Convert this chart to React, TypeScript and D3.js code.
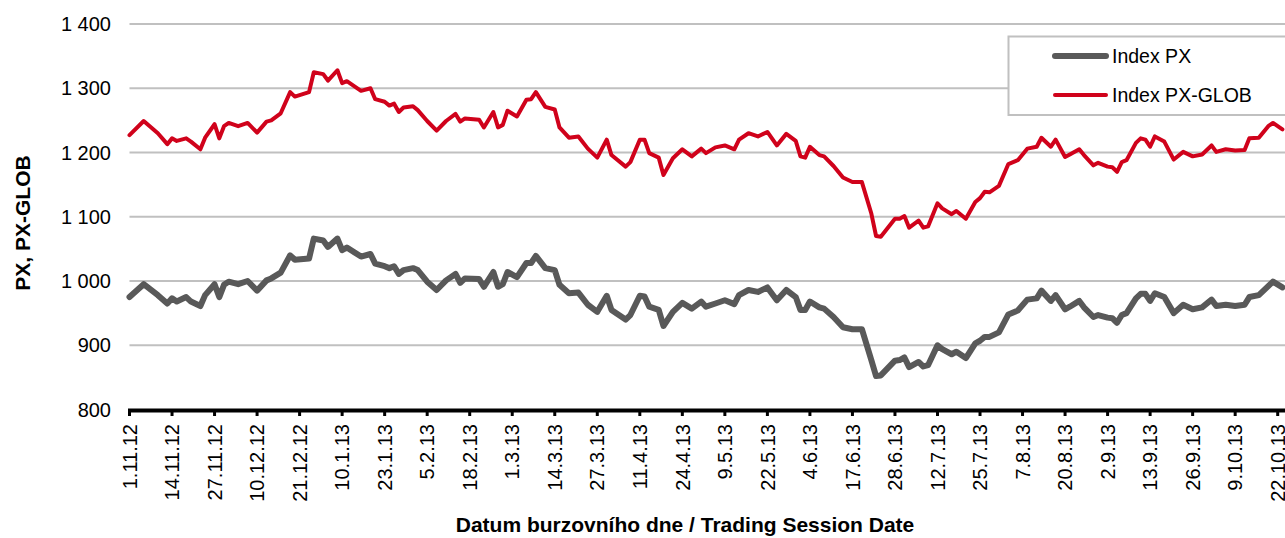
import React, { useEffect, useRef } from "react";
import * as d3 from "d3";

// trading-session index (0 = 1.11.12) of each read point
const sessionIdx = [
  0, 3, 6, 8, 9, 10, 12, 13, 15, 16, 18, 19, 20, 21, 23, 25, 27, 29, 30, 32,
  34, 35, 38, 39, 41, 42, 44, 45, 46, 49, 51, 52, 54, 55, 56, 57, 58, 60, 61, 63,
  65, 67, 69, 70, 71, 74, 75, 77, 78, 79, 80, 82, 84, 85, 86, 88, 90, 91, 93, 95,
  97, 99, 101, 102, 105, 106, 108, 109, 110, 112, 113, 115, 117, 119, 121, 122, 124, 126, 128, 129,
  131, 133, 135, 137, 139, 141, 142, 143, 144, 146, 147, 149, 151, 153, 155, 157, 158, 159, 162, 163,
  164, 165, 167, 168, 169, 171, 172, 174, 175, 177, 179, 180, 181, 182, 184, 186, 188, 190, 192, 193,
  195, 196, 198, 199, 201, 202, 204, 205, 207, 208, 209, 210, 211, 213, 214, 215, 216, 217, 219, 221,
  223, 225, 227, 229, 230, 232, 234, 236, 237, 239, 241, 242, 244,
];

const pxValues = [
  975, 995, 978, 965, 973, 968, 975, 968, 961, 978, 995, 975, 994, 999, 995, 1000, 985, 1001, 1004, 1013,
  1040, 1033, 1035, 1066, 1063, 1053, 1066, 1048, 1052, 1038, 1042, 1027, 1023, 1020, 1023, 1011, 1017, 1020, 1017, 999,
  986, 1001, 1011, 997, 1004, 1003, 991, 1014, 991, 995, 1014, 1006, 1028, 1028, 1039, 1020, 1017, 994, 981, 982,
  963, 952, 977, 955, 940, 947, 977, 976, 960, 955, 930, 952, 966, 957, 968, 960, 965, 970, 964, 978,
  986, 983, 990, 970, 986, 975, 955, 955, 968, 959, 957, 944, 928, 925, 925, 877, 852, 853, 876, 877,
  881, 866, 874, 867, 869, 900, 894, 886, 890, 880, 903, 907, 913, 913, 920, 948, 954, 971, 973, 985,
  969, 978, 956, 960, 969, 959, 944, 947, 943, 942, 935, 947, 950, 973, 980, 980, 969, 981, 975, 950,
  963, 956, 959, 971, 961, 963, 961, 963, 975, 978, 992, 999, 990,
];

const globValues = [
  1227, 1249, 1230, 1213, 1222, 1218, 1222, 1217, 1205, 1223, 1244, 1222, 1241, 1246, 1241, 1246, 1231, 1248, 1250, 1261,
  1294, 1287, 1294, 1325, 1322, 1312, 1328, 1308, 1311, 1296, 1300, 1283, 1279, 1273, 1276, 1263, 1270, 1272, 1266, 1249,
  1234, 1249, 1260, 1248, 1253, 1251, 1239, 1263, 1239, 1243, 1265, 1256, 1282, 1283, 1294, 1271, 1267, 1239, 1223, 1225,
  1206, 1192, 1220, 1196, 1178, 1185, 1220, 1220, 1199, 1192, 1165, 1191, 1205, 1194, 1206, 1199, 1208, 1211, 1205, 1220,
  1230, 1225, 1232, 1211, 1229, 1218, 1194, 1192, 1209, 1196, 1194, 1179, 1161, 1154, 1154, 1105, 1070, 1069, 1097, 1097,
  1101, 1083, 1094, 1083, 1085, 1121, 1113, 1104, 1109, 1097, 1123, 1129, 1139, 1138, 1148, 1182, 1188, 1206, 1209, 1223,
  1209, 1220, 1193, 1197, 1205, 1196, 1180, 1184, 1178, 1177, 1170, 1185, 1188, 1215, 1222, 1220, 1209, 1225, 1217, 1189,
  1201, 1194, 1197, 1211, 1201, 1205, 1203, 1204, 1222, 1223, 1241, 1246, 1236,
];

const tickLabels = [
  "1.11.12", "14.11.12", "27.11.12", "10.12.12", "21.12.12", "10.1.13", "23.1.13",
  "5.2.13", "18.2.13", "1.3.13", "14.3.13", "27.3.13", "11.4.13", "24.4.13",
  "9.5.13", "22.5.13", "4.6.13", "17.6.13", "28.6.13", "12.7.13", "25.7.13",
  "7.8.13", "20.8.13", "2.9.13", "13.9.13", "26.9.13", "9.10.13", "22.10.13",
];
const sessionsPerTick = 9;

const yTicks = [800, 900, 1000, 1100, 1200, 1300, 1400];

const seriesNames = ["Index PX", "Index PX-GLOB"];
const seriesColors = ["#595959", "#d0021b"];
const seriesWidths = [6, 4];

const FONT = "'Liberation Sans', Arial, Helvetica, sans-serif";

const App = () => {
  const svgRef = useRef<SVGSVGElement>(null);

  useEffect(() => {
    const width = 1285;
    const height = 538;
    const plotLeft = 129.5;
    const plotRight = 1285;

    const svg = d3.select(svgRef.current);
    svg.selectAll("*").remove();
    svg.attr("width", width).attr("height", height);

    const lastTick = (tickLabels.length - 1) * sessionsPerTick;
    const x = d3.scaleLinear().domain([0, lastTick]).range([129.5, 1277.7]);
    const y = d3.scaleLinear().domain([800, 1400]).range([409.5, 24]);

    const fmt = d3.formatLocale({ decimal: ",", thousands: " ", grouping: [3], currency: ["", ""] }).format(",");

    // gridlines
    svg
      .append("g")
      .selectAll("line")
      .data(yTicks.filter((d) => d > 800))
      .enter()
      .append("line")
      .attr("x1", plotLeft)
      .attr("x2", plotRight)
      .attr("y1", (d) => y(d))
      .attr("y2", (d) => y(d))
      .attr("stroke", "#c0c0c0")
      .attr("stroke-width", 2);

    // y labels
    svg
      .append("g")
      .selectAll("text")
      .data(yTicks)
      .enter()
      .append("text")
      .attr("x", 111)
      .attr("y", (d) => y(d))
      .attr("dy", "0.36em")
      .attr("text-anchor", "end")
      .style("font-family", FONT)
      .style("font-size", "20px")
      .attr("fill", "#000")
      .text((d) => fmt(d));

    // lines
    const series = [pxValues, globValues];
    series.forEach((vals, s) => {
      const line = d3
        .line<number>()
        .x((_, i) => x(sessionIdx[i]))
        .y((d) => y(d));
      svg
        .append("path")
        .attr("d", line(vals))
        .attr("fill", "none")
        .attr("stroke", seriesColors[s])
        .attr("stroke-width", seriesWidths[s])
        .attr("stroke-linejoin", "round")
        .attr("stroke-linecap", "round");
    });

    // x axis
    svg
      .append("line")
      .attr("x1", 128)
      .attr("x2", plotRight)
      .attr("y1", 410.5)
      .attr("y2", 410.5)
      .attr("stroke", "#000")
      .attr("stroke-width", 4);

    const ticks = svg.append("g");
    tickLabels.forEach((label, i) => {
      const tx = x(i * sessionsPerTick);
      ticks
        .append("line")
        .attr("x1", tx)
        .attr("x2", tx)
        .attr("y1", 410)
        .attr("y2", 416)
        .attr("stroke", "#000")
        .attr("stroke-width", 3);
      ticks
        .append("text")
        .attr("transform", `translate(${tx},424) rotate(-90)`)
        .attr("dy", "0.36em")
        .attr("text-anchor", "end")
        .style("font-family", FONT)
        .style("font-size", "20px")
        .attr("fill", "#000")
        .text(label);
    });

    // axis titles
    svg
      .append("text")
      .attr("transform", "translate(30,223) rotate(-90)")
      .attr("text-anchor", "middle")
      .style("font-family", FONT)
      .style("font-size", "21px")
      .style("font-weight", "bold")
      .text("PX, PX-GLOB");

    svg
      .append("text")
      .attr("x", 685)
      .attr("y", 532)
      .attr("text-anchor", "middle")
      .style("font-family", FONT)
      .style("font-size", "21px")
      .style("font-weight", "bold")
      .text("Datum burzovního dne / Trading Session Date");

    // legend
    const legend = svg.append("g");
    legend
      .append("rect")
      .attr("x", 1008.5)
      .attr("y", 36.5)
      .attr("width", 320)
      .attr("height", 78.5)
      .attr("fill", "#fff")
      .attr("stroke", "#c0c0c0")
      .attr("stroke-width", 2);

    seriesNames.forEach((name, i) => {
      const ly = 56 + i * 39;
      legend
        .append("line")
        .attr("x1", 1055)
        .attr("x2", 1106)
        .attr("y1", ly)
        .attr("y2", ly)
        .attr("stroke", seriesColors[i])
        .attr("stroke-width", seriesWidths[i])
        .attr("stroke-linecap", "round");
      legend
        .append("text")
        .attr("x", 1112)
        .attr("y", ly)
        .attr("dy", "0.36em")
        .style("font-family", FONT)
        .style("font-size", "19.5px")
        .attr("fill", "#000")
        .text(name);
    });
  }, []);

  return <svg ref={svgRef} style={{ position: "absolute", left: 0, top: 0 }}></svg>;
};

export default App;
